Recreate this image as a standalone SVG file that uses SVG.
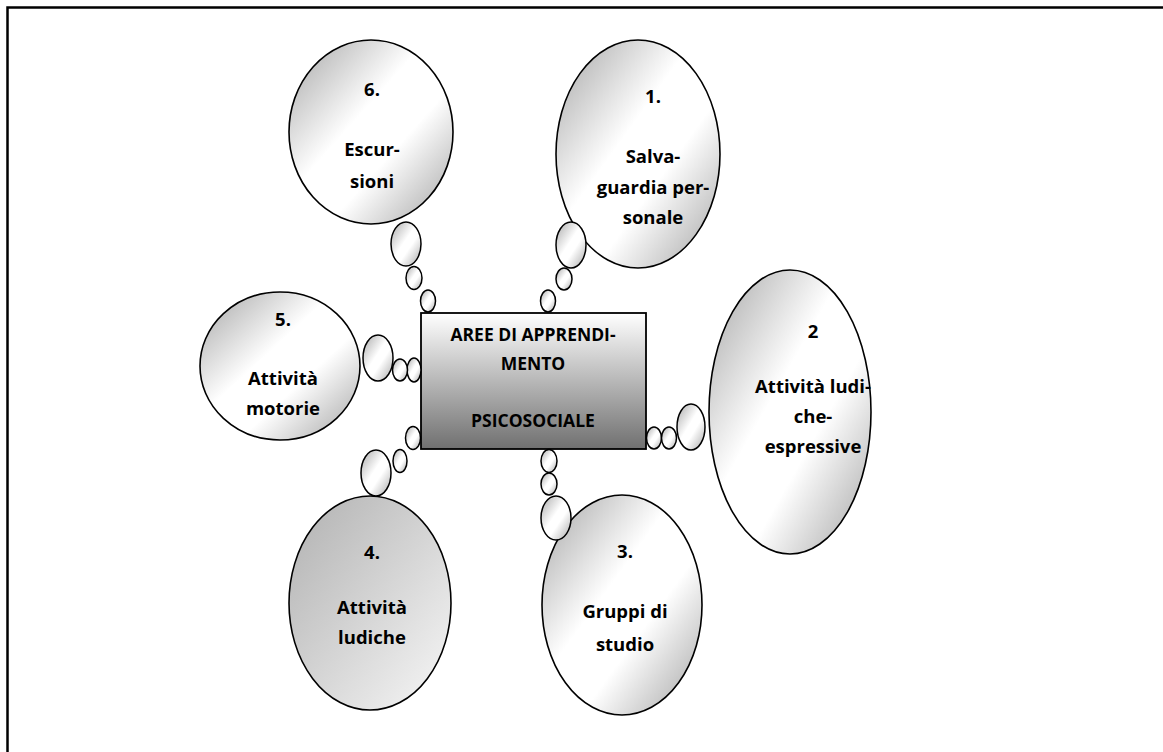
<svg xmlns="http://www.w3.org/2000/svg" width="1163" height="752" viewBox="0 0 1163 752">
<defs>
<linearGradient id="gB" x1="0" y1="0" x2="1" y2="1">
<stop offset="0" stop-color="#a4a4a4"/>
<stop offset="0.42" stop-color="#ffffff"/>
<stop offset="0.62" stop-color="#ffffff"/>
<stop offset="1" stop-color="#a2a2a2"/>
</linearGradient>
<linearGradient id="gL" x1="0" y1="0" x2="1" y2="1">
<stop offset="0" stop-color="#b0b0b0"/>
<stop offset="1" stop-color="#f8f8f8"/>
</linearGradient>
<linearGradient id="gR" x1="0" y1="0" x2="0" y2="1">
<stop offset="0" stop-color="#ffffff"/>
<stop offset="1" stop-color="#707070"/>
</linearGradient>
<linearGradient id="gS" x1="0" y1="0" x2="1" y2="1">
<stop offset="0" stop-color="#a8a8a8"/>
<stop offset="0.45" stop-color="#ffffff"/>
<stop offset="0.6" stop-color="#ffffff"/>
<stop offset="1" stop-color="#a8a8a8"/>
</linearGradient>
</defs>
<style>
.b{fill:url(#gB);stroke:#000;stroke-width:1.6}
.l{fill:url(#gL);stroke:#000;stroke-width:1.6}
.c{fill:url(#gS);stroke:#000;stroke-width:1.5}
.t{font-family:"Open Sans","Liberation Sans",sans-serif;font-weight:bold;font-size:18.5px;fill:#000;text-anchor:middle}
.r{font-size:17.5px}
.frame{stroke:#000;stroke-width:2.5;fill:none}
</style>
<path class="frame" d="M7.5 752 V7.5 H1163"/>

<g id="center">
<rect x="421" y="313" width="225" height="136" fill="url(#gR)" stroke="#000" stroke-width="1.8"/>
<text class="t r" x="533" y="341">AREE DI APPRENDI-</text>
<text class="t r" x="533" y="370">MENTO</text>
<text class="t r" x="533" y="427">PSICOSOCIALE</text>
</g>

<g id="node1">
<ellipse class="b" cx="638" cy="154" rx="82" ry="114"/>
<text class="t" x="653" y="103">1.</text>
<text class="t" x="653" y="163">Salva-</text>
<text class="t" x="653" y="194">guardia per-</text>
<text class="t" x="653" y="224">sonale</text>
</g>

<g id="node2">
<ellipse class="b" cx="790" cy="412" rx="81" ry="142"/>
<text class="t" x="813" y="338">2</text>
<text class="t" x="813" y="393">Attività ludi-</text>
<text class="t" x="813" y="423">che-</text>
<text class="t" x="813" y="453">espressive</text>
</g>

<g id="node3">
<ellipse class="b" cx="622" cy="605" rx="80" ry="110"/>
<text class="t" x="625" y="558">3.</text>
<text class="t" x="625" y="618">Gruppi di</text>
<text class="t" x="625" y="651">studio</text>
</g>

<g id="node4">
<ellipse class="l" cx="370" cy="603" rx="81" ry="107"/>
<text class="t" x="372" y="559">4.</text>
<text class="t" x="372" y="614">Attività</text>
<text class="t" x="372" y="644">ludiche</text>
</g>

<g id="node5">
<ellipse class="b" cx="280" cy="366" rx="80" ry="74"/>
<text class="t" x="283" y="326">5.</text>
<text class="t" x="283" y="385">Attività</text>
<text class="t" x="283" y="415">motorie</text>
</g>

<g id="node6">
<ellipse class="b" cx="371" cy="132" rx="82" ry="92"/>
<text class="t" x="372" y="96">6.</text>
<text class="t" x="372" y="156">Escur-</text>
<text class="t" x="372" y="188">sioni</text>
</g>

<g id="connectors">
<ellipse class="c" cx="406" cy="244" rx="15" ry="22"/>
<ellipse class="c" cx="414" cy="278" rx="8" ry="11.5"/>
<ellipse class="c" cx="428" cy="301" rx="7.5" ry="11"/>

<ellipse class="c" cx="571" cy="245" rx="15" ry="23"/>
<ellipse class="c" cx="564" cy="279" rx="8" ry="11"/>
<ellipse class="c" cx="548" cy="301" rx="7.5" ry="11"/>

<ellipse class="c" cx="654" cy="438" rx="7.5" ry="11"/>
<ellipse class="c" cx="669" cy="438" rx="7.5" ry="11"/>
<ellipse class="c" cx="691" cy="427" rx="14" ry="23"/>

<ellipse class="c" cx="549" cy="461" rx="8" ry="11.5"/>
<ellipse class="c" cx="549" cy="484" rx="8" ry="11"/>
<ellipse class="c" cx="556" cy="518" rx="15" ry="22"/>

<ellipse class="c" cx="413" cy="438" rx="7.5" ry="11.5"/>
<ellipse class="c" cx="400" cy="461" rx="7" ry="11.5"/>
<ellipse class="c" cx="376" cy="473" rx="15" ry="23"/>

<ellipse class="c" cx="414" cy="370" rx="7" ry="12"/>
<ellipse class="c" cx="400" cy="370" rx="7.5" ry="11"/>
<ellipse class="c" cx="378" cy="358" rx="15" ry="23"/>
</g>
</svg>
